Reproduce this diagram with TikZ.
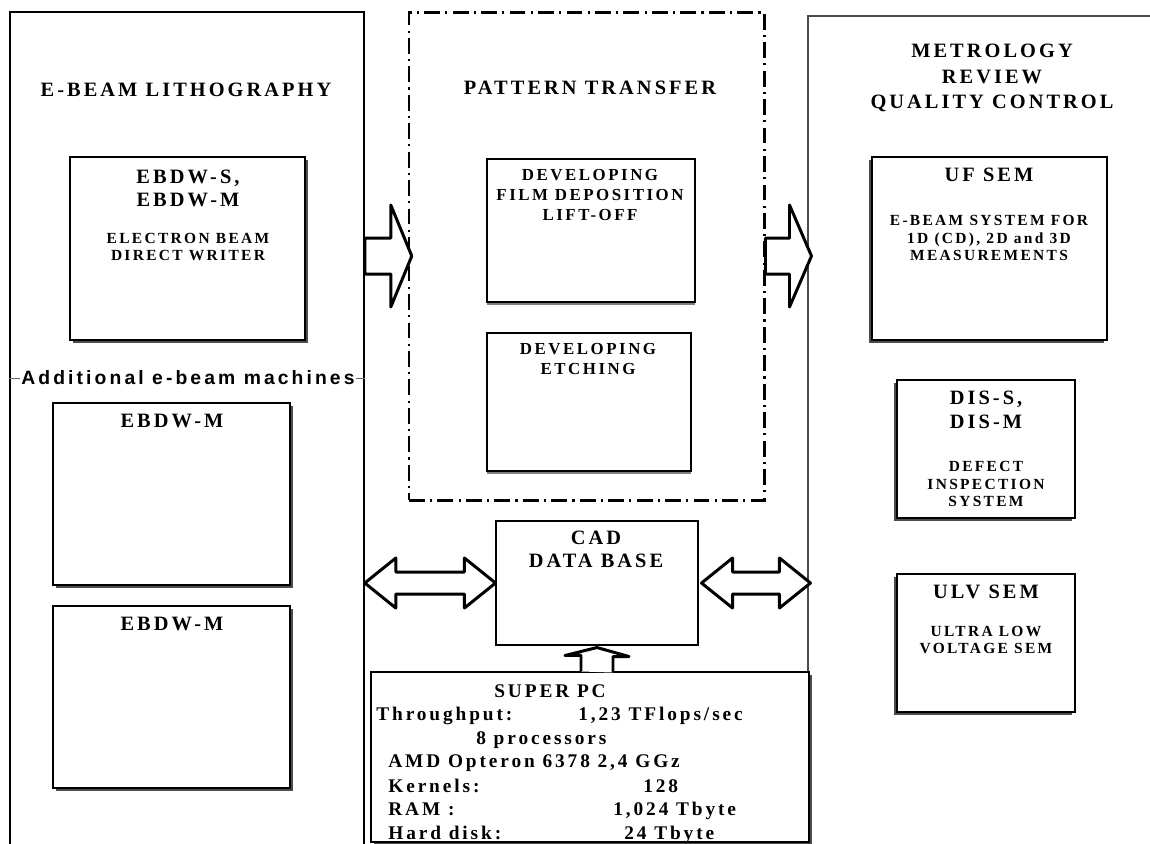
\documentclass[tikz,border=0pt]{standalone}
\usepackage{fontspec}
\setmainfont{Liberation Serif}
\newfontfamily\widefont[LetterSpace=15]{Liberation Serif}
\newfontfamily\widesans[LetterSpace=16]{Liberation Sans}
\usetikzlibrary{shadows,positioning,fit,calc}
\tikzstyle{frame}=[draw,line width=0.9pt,inner sep=0pt]
\tikzstyle{unit}=[draw,fill=white,line width=0.6pt,inner sep=0pt]
\tikzstyle{shadowR}=[drop shadow={shadow xshift=1.6pt,shadow yshift=-1.6pt,fill=black!70,opacity=1}]
\tikzstyle{shadowL}=[drop shadow={shadow xshift=-1.6pt,shadow yshift=-1.6pt,fill=black!70,opacity=1}]
\tikzstyle{shadowB}=[drop shadow={shadow xshift=0pt,shadow yshift=-1.8pt,fill=black!50,opacity=1}]
\tikzstyle{head}=[font=\widefont\bfseries\fontsize{11.6pt}{13pt}\selectfont,align=center,inner sep=0pt]
\tikzstyle{small}=[font=\widefont\bfseries\fontsize{8.8pt}{10pt}\selectfont,align=center,inner sep=0pt]
\tikzstyle{step text}=[font=\widefont\bfseries\fontsize{9.6pt}{11.3pt}\selectfont,align=center,inner sep=0pt]
\tikzstyle{pc}=[font=\widefont\bfseries\fontsize{11pt}{13pt}\selectfont,inner sep=0pt,anchor=base west]
\tikzstyle{sans}=[font=\widesans\bfseries\fontsize{11pt}{13pt}\selectfont,inner sep=1pt]
\tikzstyle{fatarrow}=[draw,line width=1.7pt,fill=white,line join=round]
\tikzstyle{dashdot}=[draw,line width=1.7pt,dash pattern=on 9pt off 3pt on 1.2pt off 3pt,inner sep=0pt]

\begin{document}
\begin{tikzpicture}[x=0.02cm,y=-0.02cm]
    \useasboundingbox (0,0) rectangle (1150,843);
    % The three columns
    \node[frame,fit={(10,12) (364,870)}] (litho) {};
    \node[frame,draw=black!70,line width=0.6pt,fit={(808,16) (1170,870)}] (metro) {};
    \node[dashdot,fit={(409,12) (764,500)}] (pattern) {};

    \node[head] (lithoT) at (186,90) {E-BEAM LITHOGRAPHY};
    \node[head] (patternT) at (590,88) {PATTERN TRANSFER};
    \node[head] (metroT) at (992,78) {METROLOGY\\[1.5pt]REVIEW\\[1.5pt]QUALITY CONTROL};

    % E-beam writers
    \node[unit,shadowR,fit={(70,157) (305,340)}] (ebdws) {};
    \node[head] (ebdwsT) at (188,188) {EBDW-S,\\EBDW-M};
    \node[small] (ebdwsD) at (188,247) {ELECTRON BEAM\\DIRECT WRITER};

    \draw[black!60,thin] (litho.west |- 0,378) -- (litho.east |- 0,378);
    \node[sans,fill=white] (addl) at (188,378) {Additional e-beam machines};

    \foreach \top/\name in {403/ebdwmA, 606/ebdwmB}
    {
        \node[unit,shadowR,fit={(53,\top) (290,\top+182)}] (\name) {};
        \node[head] (\name T) at (172,\top+18) {EBDW-M};
    }

    % Pattern transfer steps
    \node[unit,shadowB,fit={(487,159) (695,302)}] (film) {};
    \node[step text] (filmT) at (590,195) {DEVELOPING\\FILM DEPOSITION\\LIFT-OFF};
    \node[unit,shadowB,fit={(487,333) (691,471)}] (etch) {};
    \node[step text] (etchT) at (588,359) {DEVELOPING\\ETCHING};

    % Metrology tools
    \node[unit,shadowL,fit={(872,157) (1107,340)}] (ufsem) {};
    \node[head] (ufsemT) at (989,175) {UF SEM};
    \node[small] (ufsemD) at (989,238) {E-BEAM SYSTEM FOR\\1D (CD), 2D and 3D\\MEASUREMENTS};

    \node[unit,shadowL,fit={(897,380) (1075,518)}] (dis) {};
    \node[head] (disT) at (986,410) {DIS-S,\\[1pt]DIS-M};
    \node[small] (disD) at (986,484) {DEFECT\\INSPECTION\\SYSTEM};

    \node[unit,shadowL,fit={(897,574) (1075,712)}] (ulv) {};
    \node[head] (ulvT) at (986,592) {ULV SEM};
    \node[small] (ulvD) at (986,640) {ULTRA LOW\\VOLTAGE SEM};

    % CAD and the computer
    \node[unit,fit={(496,521) (698,645)}] (cad) {};
    \node[head] (cadT) at (596,549) {CAD\\DATA BASE};

    \node[unit,shadowR,fit={(371,672) (809,842)}] (superpc) {};
    \foreach \pos/\name/\txt in {{(494,697)/pcT/SUPER PC}, {(376,720)/thr/Throughput:},
                                 {(578,720)/thrV/{1,23 TFlops/sec}}, {(476,744)/cpu/8 processors},
                                 {(388,767)/amd/{AMD Opteron 6378 2,4 GGz}}, {(388,792)/ker/Kernels:},
                                 {(643,792)/kerV/128}, {(388,815)/ram/RAM :},
                                 {(613,815)/ramV/{1,024 Tbyte}}, {(388,839)/hd/Hard disk:},
                                 {(624,839)/hdV/{24 Tbyte}}}
        \node[pc] (\name) at \pos {\txt};

    % Block arrows
    \coordinate (a1) at (litho.east |- 0,256);
    \coordinate (a2) at (pattern.east |- 0,256);
    \draw[fatarrow] ($(a1)+(0,-18)$) -- ++(26,0) -- ++(0,-33) -- ($(a1)+(47,0)$) -- ++(-21,51) -- ++(0,-33) -- ++(-26,0) -- cycle;
    \draw[fatarrow] ($(a2)+(0,-18)$) -- ++(24,0) -- ++(0,-33) -- ($(a2)+(46,0)$) -- ++(-22,51) -- ++(0,-33) -- ++(-24,0) -- cycle;

    \coordinate (d1) at (litho.east |- cad.west);
    \coordinate (d2) at ($(metro.west |- cad.east)+(3,0)$);
    \coordinate (d3) at ($(cad.east)+(3,0)$);
    \draw[fatarrow] (d1) -- ++(31,-25) -- ++(0,14) -- ($(cad.west)+(-31,-11)$) -- ++(0,-14) -- (cad.west) -- ++(-31,25) -- ++(0,-14) -- ($(d1)+(31,11)$) -- ++(0,14) -- cycle;
    \draw[fatarrow] (d3) -- ++(31,-25) -- ++(0,14) -- ($(d2)+(-31,-11)$) -- ++(0,-14) -- (d2) -- ++(-31,25) -- ++(0,-14) -- ($(d3)+(31,11)$) -- ++(0,14) -- cycle;

    \coordinate (u1) at (cad.south |- superpc.north);
    \draw[fatarrow] ($(u1)+(-16,0)$) -- ++(0,-16) -- ++(-16,0) -- ($(cad.south)+(0,2)$) -- ++(32,9) -- ++(-16,0) -- ++(0,16);
\end{tikzpicture}
\end{document}
